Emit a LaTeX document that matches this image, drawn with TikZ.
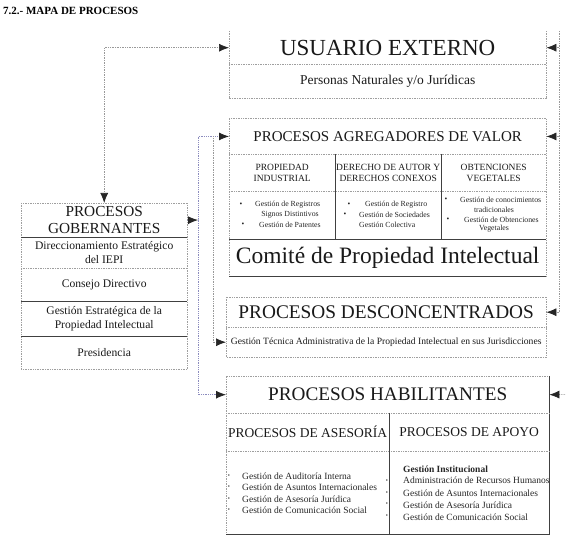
\documentclass[tikz,border=0pt]{standalone}
\usepackage{fontspec}
\setmainfont{Liberation Serif}
\usetikzlibrary{arrows.meta}
\newcommand\fsz[2]{\fontsize{#1}{#2}\selectfont}
\begin{document}
\begin{tikzpicture}[x=1pt,y=-1pt,
  gl/.style={draw=gray!75, line width=0.7pt, densely dotted},
  dl/.style={draw=black!75, line width=0.8pt},
  row/.style={inner sep=0pt, anchor=north west, text=black!90},
  conn/.style={draw=gray!80, line width=0.7pt, densely dotted},
  bconn/.style={draw={rgb,255:red,140;green,140;blue,190}, line width=0.8pt, densely dotted},
  tip/.style={-{Latex[length=10pt,width=8pt,color=black!85]}},
  tips/.style={{Latex[length=10pt,width=8pt,color=black!85]}-{Latex[length=10pt,width=8pt,color=black!85]}},
  sm/.style={inner sep=0pt, text=black!85, font=\fsz{7.8}{9}},
  md/.style={inner sep=0pt, text=black!85, font=\fsz{9.5}{11}},
  bul/.style={inner sep=0pt, text=black!85, font=\fsz{6}{7}},
]
\useasboundingbox (0,0) rectangle (566,548);

\node[anchor=west, inner sep=0pt, font=\bfseries\fsz{11}{13}] (title) at (3,11) {7.2.- MAPA DE PROCESOS};

% USUARIO EXTERNO
\node[row, minimum width=317pt, minimum height=33pt, font=\fsz{23}{26}] (usuT) at (229,31) {USUARIO EXTERNO};
\node[row, minimum width=317pt, minimum height=33.5pt, font=\fsz{13.5}{16}] (usuP) at (229,64) {Personas Naturales y/o Jurídicas};
\draw[gl] (usuT.north west) -- (usuP.south west) -- (usuP.south east) -- (usuT.north east);
\draw[gl] (usuT.south west) -- (usuT.south east);

% AGREGADORES
\node[row, minimum width=317pt, minimum height=35.5pt, font=\fsz{15}{18}] (agT) at (229,118.5) {PROCESOS AGREGADORES DE VALOR};
\node[row, minimum width=106pt, minimum height=37pt, font=\fsz{9.5}{11.5}, align=center] (agS1) at (229,154) {PROPIEDAD\\INDUSTRIAL};
\node[row, minimum width=106pt, minimum height=37pt, font=\fsz{9.5}{11.5}, align=center] (agS2) at (335,154) {DERECHO DE AUTOR Y\\DERECHOS CONEXOS};
\node[row, minimum width=105pt, minimum height=37pt, font=\fsz{9.5}{11.5}, align=center] (agS3) at (441,154) {OBTENCIONES\\VEGETALES};
\node[row, minimum width=106pt, minimum height=48pt] (agB1) at (229,191) {};
\node[row, minimum width=106pt, minimum height=48pt] (agB2) at (335,191) {};
\node[row, minimum width=105pt, minimum height=48pt] (agB3) at (441,191) {};
\node[row, minimum width=317pt, minimum height=37pt, font=\fsz{23.5}{26}] (agC) at (229,239) {Comité de Propiedad Intelectual};

\node[sm] (b11) at (241,205) {•};
\node[sm, anchor=west] (t11) at (255,205) {Gestión de Registros};
\node[sm] (t12) at (290,215) {Signos Distintivos};
\node[sm] (b13) at (243,225) {•};
\node[sm, anchor=west] (t13) at (259,225) {Gestión de Patentes};
\node[sm] (b21) at (349,205) {•};
\node[sm, anchor=west] (t21) at (365,205) {Gestión de Registro};
\node[sm] (b22) at (345,215) {•};
\node[sm, anchor=west] (t22) at (359,215) {Gestión de Sociedades};
\node[sm, anchor=west] (t23) at (359,225) {Gestión Colectiva};
\node[sm] (b31) at (446,200) {•};
\node[sm, anchor=west] (t31) at (460,200) {Gestión de conocimientos};
\node[sm] (t32) at (494,210) {tradicionales};
\node[sm] (b33) at (448,219.5) {•};
\node[sm, anchor=west] (t33) at (464,219.5) {Gestión de Obtenciones};
\node[sm] (t34) at (494,229) {Vegetales};

\draw[gl] (agC.south west) -- (agT.north west) -- (agT.north east) -- (agC.south east);
\draw[gl] (agT.south west) -- (agT.south east);
\draw[gl] (agS1.south west) -- (agS3.south east);
\draw[dl] (agS1.north east) -- (agB1.south east);
\draw[dl] (agS2.north east) -- (agB2.south east);
\draw[dl] (agB1.south west) -- (agB3.south east);
\draw[dl] (agC.south west) -- (agC.south east);

% GOBERNANTES
\node[row, minimum width=166pt, minimum height=34pt, font=\fsz{15.3}{17.5}, align=center] (gT) at (21,203) {PROCESOS\\GOBERNANTES};
\node[row, minimum width=166pt, minimum height=31pt, font=\fsz{11.6}{14}, align=center] (g1) at (21,237) {Direccionamiento Estratégico\\del IEPI};
\node[row, minimum width=166pt, minimum height=33pt, font=\fsz{11.6}{14}] (g2) at (21,268) {Consejo Directivo};
\node[row, minimum width=166pt, minimum height=35pt, font=\fsz{11.6}{14.5}, align=center] (g3) at (21,301) {Gestión Estratégica de la\\Propiedad Intelectual};
\node[row, minimum width=166pt, minimum height=33pt, font=\fsz{11.6}{14}] (g4) at (21,336) {Presidencia};
\draw[gl] (gT.north west) rectangle (g4.south east);
\draw[dl] (gT.south west) -- (gT.south east);
\draw[gl] (g1.south west) -- (g1.south east);
\draw[dl] (g2.south west) -- (g2.south east);
\draw[dl] (g3.south west) -- (g3.south east);

% DESCONCENTRADOS
\node[row, minimum width=320pt, minimum height=30pt, font=\fsz{19.3}{22}] (dT) at (226,297) {PROCESOS DESCONCENTRADOS};
\node[row, minimum width=320pt, minimum height=30pt, font=\fsz{9.6}{11}] (dG) at (226,327) {Gestión Técnica Administrativa de la Propiedad Intelectual en sus Jurisdicciones};
\draw[gl] (dT.north west) rectangle (dG.south east);
\draw[gl] (dT.south west) -- (dT.south east);

% HABILITANTES
\node[row, minimum width=323pt, minimum height=37pt, font=\fsz{19.2}{22}] (hT) at (226,376) {PROCESOS HABILITANTES};
\node[row, minimum width=163pt, minimum height=38pt, font=\fsz{13.5}{16}] (hS1) at (226,413) {PROCESOS DE ASESORÍA};
\node[row, minimum width=160pt, minimum height=38pt, font=\fsz{13.5}{16}] (hS2) at (389,413) {PROCESOS DE APOYO};
\node[row, minimum width=163pt, minimum height=83pt] (hB1) at (226,451) {};
\node[row, minimum width=160pt, minimum height=83pt] (hB2) at (389,451) {};

\node[bul] (hb11) at (229,476) {•};
\node[md, anchor=west] (ht11) at (242,476) {Gestión de Auditoría Interna};
\node[bul] (hb12) at (229,487.5) {•};
\node[md, anchor=west] (ht12) at (242,487.5) {Gestión de Asuntos Internacionales};
\node[bul] (hb13) at (229,499) {•};
\node[md, anchor=west] (ht13) at (242,499) {Gestión de Asesoría Jurídica};
\node[bul] (hb14) at (229,510.5) {•};
\node[md, anchor=west] (ht14) at (242,510.5) {Gestión de Comunicación Social};

\node[md, anchor=west, font=\bfseries\fsz{9.5}{11}] (ht21) at (403,469) {Gestión Institucional};
\node[md, anchor=west] (ht22) at (403,480.5) {Administración de Recursos Humanos};
\node[md, anchor=west] (ht23) at (403,493) {Gestión de Asuntos Internacionales};
\node[md, anchor=west] (ht24) at (403,505) {Gestión de Asesoría Jurídica};
\node[md, anchor=west] (ht25) at (403,517) {Gestión de Comunicación Social};
\node[bul] (hb22) at (387,481) {•};
\node[bul] (hb23) at (387,493) {•};
\node[bul] (hb24) at (387,504.5) {•};
\node[bul] (hb25) at (387,516) {•};

\draw[gl] (hB1.south west) -- (hT.north west) -- (hT.north east);
\draw[dl] (hT.north east) -- (hB2.south east) -- (hB1.south west);
\draw[gl] (hT.south west) -- (hT.south east);
\draw[gl] (hS1.south west) -- (hS2.south east);
\draw[dl] (hS1.north east) -- (hB1.south east);

% CONNECTORS
\draw[conn,tips] (gT.north) |- (usuT.west);
\coordinate (busL) at (198,220);
\draw[bconn,tip] (gT.east) -- (busL);
\draw[bconn,tips] (agT.west) -| (busL) |- (hT.west);
\coordinate (busI) at (213,136.25);
\draw[conn,tip] (busI) |- (dG.west);
\coordinate (busR) at (559,31);
\draw[conn] (busR) -- (busR |- dT.east);
\draw[conn,tip] (busR |- usuT.east) -- (usuT.east);
\draw[conn,tip] (busR |- agT.east) -- (agT.east);
\draw[conn,tip] (busR |- dT.east) -- (dT.east);
\coordinate (stubR) at (565,394.5);
\draw[conn,tip] (stubR) -- (hT.east);
\end{tikzpicture}
\end{document}
